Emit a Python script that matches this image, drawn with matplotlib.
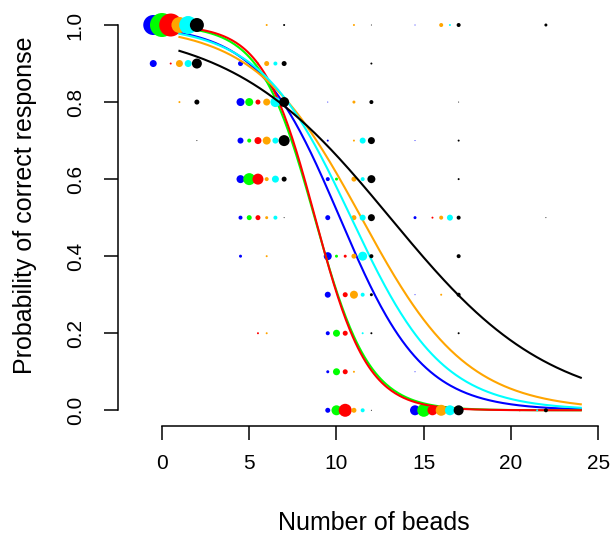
import numpy as np
import matplotlib
matplotlib.use("Agg")
import matplotlib.pyplot as plt

plt.rcParams["font.family"] = ["Liberation Sans", "DejaVu Sans"]

# colours (one per condition) and their horizontal jitter
colors = ["blue", "#00ff00", "red", "orange", "cyan", "black"]
x_offset = [-0.5, 0.0, 0.5, 1.0, 1.5, 2.0]

# observed proportions: bead number, proportion correct, number of subjects
blue_x = [0, 0, 5, 5, 5, 5, 5, 5, 10, 10, 10, 10, 10, 10, 10, 10, 10, 15, 15, 15, 15, 15, 15, 20]
blue_y = [1.0, 0.9, 0.9, 0.8, 0.7, 0.6, 0.5, 0.4, 0.8, 0.7, 0.6, 0.5, 0.4, 0.3, 0.2, 0.1, 0.0,
          1.0, 0.7, 0.5, 0.3, 0.1, 0.0, 0.0]
blue_n = [20, 7, 5, 8, 6, 8, 4, 3, 1, 2, 4, 5, 8, 6, 4, 3, 5, 1, 1, 3, 1, 1, 10, 1]

green_x = [0, 5, 5, 5, 5, 10, 10, 10, 10, 10, 15]
green_y = [1.0, 0.8, 0.7, 0.6, 0.5, 0.6, 0.4, 0.2, 0.1, 0.0, 0.0]
green_n = [24, 8, 4, 12, 5, 3, 3, 7, 7, 10, 13]

red_x = [0, 0, 5, 5, 5, 5, 5, 5, 10, 10, 10, 10, 10, 15, 15, 20]
red_y = [1.0, 0.9, 0.9, 0.8, 0.7, 0.6, 0.5, 0.2, 0.4, 0.3, 0.2, 0.1, 0.0, 0.5, 0.0, 0.0]
red_n = [23, 2, 2, 5, 7, 11, 5, 2, 3, 5, 5, 5, 13, 2, 10, 2]

orange_x = [0, 0, 0, 5, 5, 5, 5, 5, 5, 5, 5, 10, 10, 10, 10, 10, 10, 10, 10, 10,
            15, 15, 15, 15]
orange_y = [1.0, 0.9, 0.8, 1.0, 0.9, 0.8, 0.7, 0.6, 0.5, 0.4, 0.2, 1.0, 0.8, 0.7, 0.6, 0.5,
            0.4, 0.3, 0.1, 0.0, 1.0, 0.5, 0.3, 0.0]
orange_n = [16, 7, 2, 2, 5, 7, 8, 4, 3, 2, 2, 2, 3, 2, 5, 5, 5, 8, 2, 5, 4, 4, 2, 11]

cyan_x = [0, 0, 5, 5, 5, 5, 5, 10, 10, 10, 10, 10, 10, 10, 15, 15, 15, 20]
cyan_y = [1.0, 0.9, 0.9, 0.8, 0.7, 0.6, 0.5, 0.7, 0.6, 0.5, 0.4, 0.3, 0.2, 0.0, 1.0, 0.5, 0.0, 0.0]
cyan_n = [18, 7, 4, 10, 6, 7, 4, 6, 4, 6, 9, 4, 2, 4, 2, 6, 10, 2]

black_x = [0, 0, 0, 0, 5, 5, 5, 5, 5, 5, 10, 10, 10, 10, 10, 10, 10, 10, 10, 10,
           15, 15, 15, 15, 15, 15, 15, 15, 15, 20, 20, 20]
black_y = [1.0, 0.9, 0.8, 0.7, 1.0, 0.9, 0.8, 0.7, 0.6, 0.5, 1.0, 0.9, 0.8, 0.7, 0.6, 0.5,
           0.4, 0.3, 0.2, 0.0, 1.0, 0.8, 0.7, 0.6, 0.5, 0.4, 0.3, 0.2, 0.0, 1.0, 0.5, 0.0]
black_n = [14, 10, 5, 1, 2, 5, 10, 11, 5, 1, 1, 2, 4, 7, 8, 7, 4, 3, 2, 1,
           4, 1, 2, 2, 4, 4, 4, 2, 10, 3, 1, 4]

# fitted logistic curves: intercept and slope per condition
intercepts = [4.31, 5.60, 5.88, 3.77, 4.14, 2.85]
slopes = [-0.423, -0.640, -0.670, -0.330, -0.382, -0.218]

xs_all = [blue_x, green_x, red_x, orange_x, cyan_x, black_x]
ys_all = [blue_y, green_y, red_y, orange_y, cyan_y, black_y]
ns_all = [blue_n, green_n, red_n, orange_n, cyan_n, black_n]

fig = plt.figure(figsize=(6.15, 5.36), dpi=100)
ax = fig.add_axes([118 / 615, (536 - 425.7) / 536, (615.7 - 118) / 615, (425.7 - 9.6) / 536])

x_curve = np.linspace(1, 24, 300)
for col, off, xv, yv, nv, a, b in zip(colors, x_offset, xs_all, ys_all, ns_all, intercepts, slopes):
    xv = np.array(xv, dtype=float) + off
    nv = np.array(nv, dtype=float)
    ax.scatter(xv, yv, s=(0.72 * nv) ** 2, color=col, linewidths=0, zorder=2)
    p = 1 / (1 + np.exp(-(a + b * x_curve)))
    ax.plot(x_curve, p, color=col, lw=1.5, zorder=2)

ax.set_xlim(-2.52, 26)
ax.set_ylim(-0.04, 1.04)
for s in ["top", "right"]:
    ax.spines[s].set_visible(False)
ax.spines["left"].set_bounds(0, 1)
ax.spines["bottom"].set_bounds(0, 25)
for s in ["left", "bottom"]:
    ax.spines[s].set_linewidth(1.1)

ax.set_xticks([0, 5, 10, 15, 20, 25])
ax.set_yticks([0, 0.2, 0.4, 0.6, 0.8, 1.0])
ax.set_yticklabels(["0.0", "0.2", "0.4", "0.6", "0.8", "1.0"], rotation=90, va="center")
ax.tick_params(direction="out", length=10.4, width=1.1, labelsize=15)
ax.tick_params(axis="x", pad=10)
ax.tick_params(axis="y", pad=13.5)

fig.text(374 / 615, 1 - 523 / 536, "Number of beads", ha="center", va="center", fontsize=18)
fig.text(25 / 615, 1 - 205 / 536, "Probability of correct response", ha="center", va="center",
         rotation=90, fontsize=18)

fig.savefig("out.png", dpi=100)
